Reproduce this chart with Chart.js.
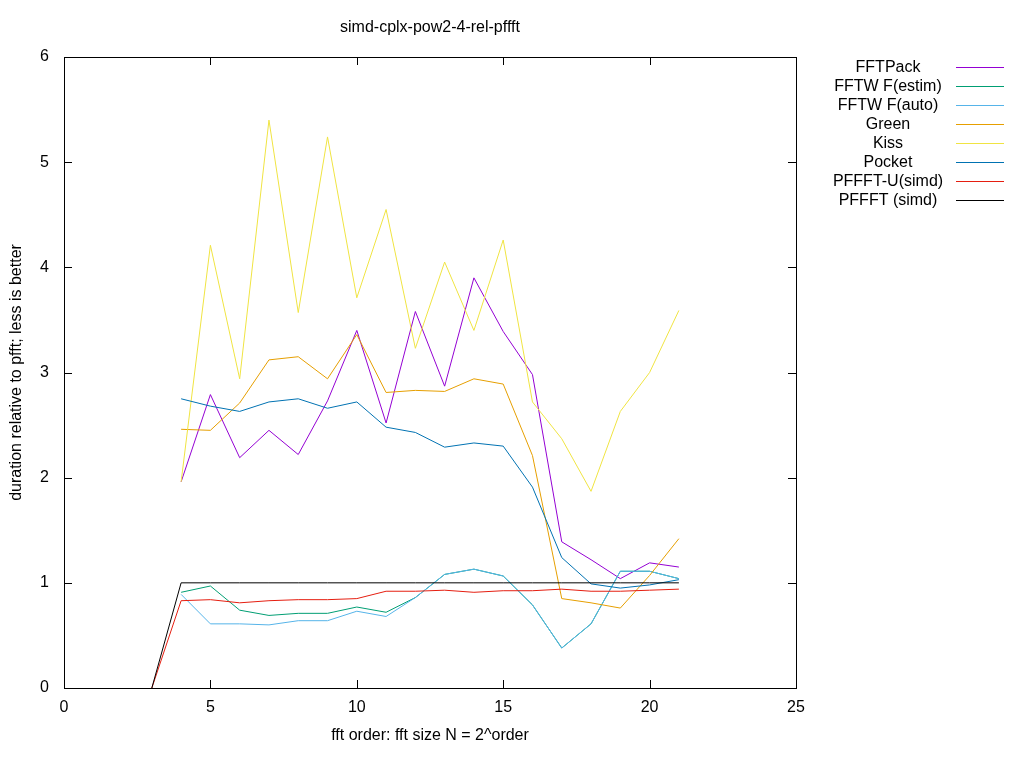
<!DOCTYPE html>
<html>
<head>
<meta charset="utf-8">
<title>simd-cplx-pow2-4-rel-pffft</title>
<script src="https://cdn.jsdelivr.net/npm/chart.js"></script>
<style>
  html, body { margin: 0; padding: 0; background: #fff; }
</style>
</head>
<body>
<canvas id="grafico" width="1024" height="768"></canvas>
<script>
  // fft order (x axis)
  var ordens = [3, 4, 5, 6, 7, 8, 9, 10, 11, 12, 13, 14, 15, 16, 17, 18, 19, 20, 21];

  // duration relative to pffft
  var fftpack   = [null, 1.96, 2.79, 2.19, 2.45, 2.22, 2.73, 3.40, 2.52, 3.58, 2.87, 3.90, 3.39, 2.98, 1.39, 1.22, 1.04, 1.19, 1.15];
  var fftwEstim = [null, 0.91, 0.97, 0.74, 0.69, 0.71, 0.71, 0.77, 0.72, 0.86, 1.08, 1.13, 1.065, 0.79, 0.38, 0.61, 1.11, 1.11, 1.04];
  var fftwAuto  = [null, 0.89, 0.61, 0.61, 0.60, 0.64, 0.64, 0.73, 0.68, 0.86, 1.08, 1.13, 1.065, 0.79, 0.38, 0.61, 1.11, 1.11, 1.04];
  var green     = [null, 2.46, 2.45, 2.71, 3.12, 3.15, 2.94, 3.36, 2.81, 2.83, 2.82, 2.94, 2.89, 2.21, 0.85, 0.81, 0.76, 1.07, 1.42];
  var kiss      = [null, 1.96, 4.21, 2.94, 5.40, 3.57, 5.24, 3.71, 4.55, 3.23, 4.05, 3.40, 4.26, 2.72, 2.37, 1.87, 2.63, 3.00, 3.59];
  var pocket    = [null, 2.75, 2.68, 2.63, 2.72, 2.75, 2.66, 2.72, 2.48, 2.43, 2.29, 2.33, 2.30, 1.91, 1.24, 0.99, 0.95, 0.98, 1.03];
  var pffftU    = [0, 0.83, 0.84, 0.81, 0.83, 0.84, 0.84, 0.85, 0.92, 0.92, 0.93, 0.91, 0.925, 0.925, 0.94, 0.92, 0.92, 0.93, 0.94];
  var pffft     = [0, 1, 1, 1, 1, 1, 1, 1, 1, 1, 1, 1, 1, 1, 1, 1, 1, 1, 1];

  var nomes = ["FFTPack", "FFTW F(estim)", "FFTW F(auto)", "Green", "Kiss", "Pocket", "PFFFT-U(simd)", "PFFFT (simd)"];
  var cores = ["#9400d3", "#009e73", "#56b4e9", "#e69f00", "#f0e442", "#0072b2", "#e51e10", "#000000"];
  var series = [fftpack, fftwEstim, fftwAuto, green, kiss, pocket, pffftU, pffft];

  var xTicks = [0, 5, 10, 15, 20, 25];
  var yTicks = [0, 1, 2, 3, 4, 5, 6];

  var titulo = "simd-cplx-pow2-4-rel-pffft";
  var tituloX = "fft order: fft size N = 2^order";
  var tituloY = "duration relative to pfft; less is better";

  var familia = "'Liberation Sans', Arial, sans-serif";
  var fonte = "16px " + familia;

  function pontos(valores) {
    var lista = [];
    for (var i = 0; i < ordens.length; i++) {
      lista.push({ x: ordens[i], y: valores[i] });
    }
    return lista;
  }

  var datasets = [];
  for (var i = 0; i < series.length; i++) {
    datasets.push({
      label: nomes[i],
      data: pontos(series[i]),
      borderColor: cores[i],
      backgroundColor: cores[i],
      borderWidth: 1,
      pointRadius: 0,
      tension: 0,
      fill: false,
      spanGaps: false,
      // gnuplot draws later series on top
      order: series.length - i
    });
  }

  // box, inward tics, titles and key, gnuplot style
  var moldura = {
    id: "moldura",
    afterDatasetsDraw: function (chart) {
      var ctx = chart.ctx;
      var area = chart.chartArea;
      var sx = chart.scales.x;
      var sy = chart.scales.y;
      var tl = 8;
      ctx.save();
      ctx.strokeStyle = "#000";
      ctx.lineWidth = 1;
      ctx.beginPath();
      xTicks.forEach(function (v) {
        var px = Math.round(sx.getPixelForValue(v)) + 0.5;
        ctx.moveTo(px, area.bottom);
        ctx.lineTo(px, area.bottom - tl);
        ctx.moveTo(px, area.top);
        ctx.lineTo(px, area.top + tl);
      });
      yTicks.forEach(function (v) {
        var py = Math.round(sy.getPixelForValue(v)) + 0.5;
        ctx.moveTo(area.left, py);
        ctx.lineTo(area.left + tl, py);
        ctx.moveTo(area.right, py);
        ctx.lineTo(area.right - tl, py);
      });
      ctx.stroke();
      ctx.strokeRect(Math.round(area.left) + 0.5, Math.round(area.top) + 0.5,
        Math.round(area.right - area.left), Math.round(area.bottom - area.top));
      ctx.restore();
    },
    afterDraw: function (chart) {
      var ctx = chart.ctx;
      var area = chart.chartArea;
      var meio = (area.left + area.right) / 2;
      ctx.save();
      ctx.fillStyle = "#000";
      ctx.font = fonte;
      ctx.textAlign = "center";
      ctx.textBaseline = "middle";
      ctx.fillText(titulo, meio, 28);
      ctx.fillText(tituloX, meio, 736);

      ctx.save();
      ctx.translate(17, (area.top + area.bottom) / 2);
      ctx.rotate(-Math.PI / 2);
      ctx.fillText(tituloY, 0, 0);
      ctx.restore();

      // key
      for (var i = 0; i < nomes.length; i++) {
        var y = 67 + i * 19;
        ctx.fillStyle = "#000";
        ctx.fillText(nomes[i], 888, y + 1);
        ctx.strokeStyle = cores[i];
        ctx.lineWidth = 1;
        ctx.beginPath();
        ctx.moveTo(956, y + 0.5);
        ctx.lineTo(1004, y + 0.5);
        ctx.stroke();
      }
      ctx.restore();
    }
  };

  var config = {
    type: "line",
    data: { datasets: datasets },
    options: {
      responsive: false,
      animation: false,
      devicePixelRatio: 1,
      layout: { padding: { top: 57, right: 228, bottom: 0, left: 0 } },
      plugins: {
        legend: { display: false },
        title: { display: false },
        tooltip: { enabled: false }
      },
      scales: {
        x: {
          type: "linear",
          min: 0,
          max: 25,
          grid: { display: false },
          border: { display: false },
          ticks: {
            stepSize: 5,
            color: "#000",
            font: { family: familia, size: 16 },
            padding: 2,
            maxRotation: 0
          },
          afterFit: function (scale) { scale.height = 80; }
        },
        y: {
          type: "linear",
          min: 0,
          max: 6,
          grid: { display: false },
          border: { display: false },
          ticks: {
            stepSize: 1,
            color: "#000",
            font: { family: familia, size: 16 },
            padding: 7
          },
          afterFit: function (scale) { scale.width = 64; }
        }
      }
    },
    plugins: [moldura]
  };

  var grafico = new Chart(document.getElementById("grafico"), config);
</script>
</body>
</html>
